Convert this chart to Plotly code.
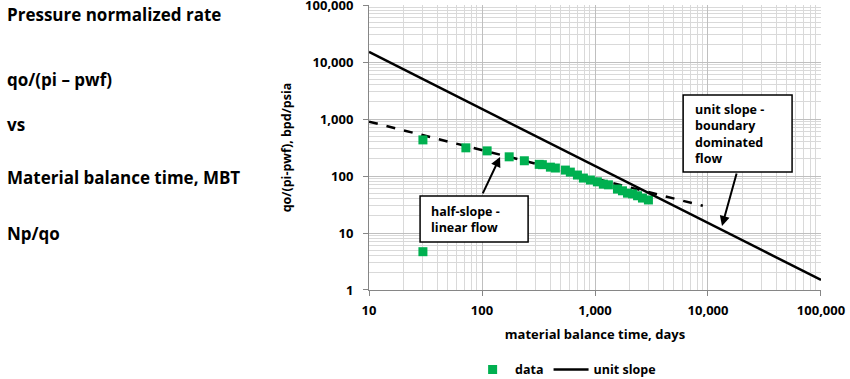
import numpy as np
import plotly.graph_objects as go

# ---- data ----
mbt_days = [30, 30, 72, 111, 174, 237, 321, 342, 403, 446, 547, 605, 699, 789, 910,
            1050, 1186, 1314, 1580, 1750, 1940, 2150, 2380, 2630, 2970]
norm_rate = [430, 4.7, 312, 276, 217, 185, 160, 158, 143, 138, 127, 117, 104, 92, 85,
             79, 72, 70, 59, 55, 50, 48.5, 45, 41, 38]

unit_slope_t = [10, 100000]
unit_slope_q = [15000, 1.5]

half_slope_t = [10, 9000]
half_slope_q = [900, 30]

tick_vals = [1, 10, 100, 1000, 10000, 100000]
tick_text = ["1", "10", "100", "1,000", "10,000", "100,000"]

left_text = ["Pressure normalized rate", "qo/(pi \u2013 pwf)", "vs",
             "Material balance time, MBT", "Np/qo"]
left_y = [0.968, 0.737, 0.579, 0.393, 0.200]

FONT = "Open Sans"
green = "#00B050"

fig = go.Figure()
fig.add_trace(go.Scatter(x=half_slope_t, y=half_slope_q, mode="lines",
                         line=dict(color="black", width=2.5, dash="dash"),
                         showlegend=False, hoverinfo="skip"))
fig.add_trace(go.Scatter(x=mbt_days, y=norm_rate, mode="markers", name="data",
                         marker=dict(symbol="square", size=9, color=green)))
fig.add_trace(go.Scatter(x=unit_slope_t, y=unit_slope_q, mode="lines", name="unit slope",
                         line=dict(color="black", width=2.5)))

grid_minor = "#D9D9D9"
grid_major = "#BFBFBF"
axis_common = dict(type="log", showgrid=True, gridcolor=grid_major, gridwidth=1,
                   tickvals=tick_vals, ticktext=tick_text, automargin=False,
                   ticklabeloverflow="allow",
                   showline=True, linecolor="#868686", linewidth=1,
                   ticks="outside", ticklen=5, tickcolor="#868686",
                   tickfont=dict(family=FONT, size=13, color="black", weight="bold"),
                   minor=dict(showgrid=True, gridcolor=grid_minor, gridwidth=1, dtick="D1",
                              ticks=""),
                   zeroline=False, mirror=False)

fig.update_xaxes(range=[1 - 1e-4, 5 + 1e-4], **axis_common, ticklabelstandoff=3,
                 title=dict(text="material balance time, days", standoff=12,
                            font=dict(family=FONT, size=13, color="black", weight="bold")))
fig.update_yaxes(range=[0 - 1e-4, 5 + 1e-4], **axis_common, ticklabelstandoff=7,
                 title=dict(text="qo/(pi-pwf), bpd/psia", standoff=10,
                            font=dict(family=FONT, size=12.5, color="black", weight="bold")))

shapes = [
    dict(type="rect", xref="paper", yref="paper", x0=0.113, x1=0.352, y0=0.168, y1=0.330,
         line=dict(color="black", width=1.5), fillcolor="white", layer="above"),
    dict(type="rect", xref="paper", yref="paper", x0=0.695, x1=0.936, y0=0.414, y1=0.684,
         line=dict(color="black", width=1.5), fillcolor="white", layer="above"),
]

annotations = []
for t, y in zip(left_text, left_y):
    annotations.append(dict(text=t, xref="paper", yref="paper", x=-0.805, y=y,
                            xanchor="left", yanchor="middle", showarrow=False,
                            font=dict(family=FONT, size=17, color="black", weight="bold")))

annotations.append(dict(text="half-slope -<br>linear flow", xref="paper", yref="paper",
                        x=0.133, y=0.249, xanchor="left", yanchor="middle", align="left",
                        showarrow=False,
                        font=dict(family=FONT, size=12.5, color="black", weight="bold")))
annotations.append(dict(text="unit slope -<br>boundary<br>dominated<br>flow",
                        xref="paper", yref="paper",
                        x=0.717, y=0.547, xanchor="left", yanchor="middle", align="left",
                        showarrow=False,
                        font=dict(family=FONT, size=12.5, color="black", weight="bold")))
annotations.append(dict(text="", xref="paper", yref="paper", x=0.290, y=0.467,
                        ax=-18, ay=38, showarrow=True, arrowhead=2, arrowsize=1,
                        arrowwidth=2, arrowcolor="black"))
annotations.append(dict(text="", xref="paper", yref="paper", x=0.781, y=0.2246,
                        ax=15, ay=-54, showarrow=True, arrowhead=2, arrowsize=1,
                        arrowwidth=2, arrowcolor="black"))

fig.update_layout(
    width=850, height=379,
    margin=dict(l=369, r=29, t=5, b=89, autoexpand=False),
    paper_bgcolor="white", plot_bgcolor="white",
    shapes=shapes, annotations=annotations,
    legend=dict(orientation="h", x=0.435, y=-0.28, xanchor="center", yanchor="middle",
                font=dict(family=FONT, size=12.5, color="black", weight="bold"),
                itemwidth=35, bgcolor="rgba(0,0,0,0)"),
)

fig.write_html("out.html", config={"displayModeBar": False},
               post_script="document.body.style.margin='0px';document.body.style.overflow='hidden';")
